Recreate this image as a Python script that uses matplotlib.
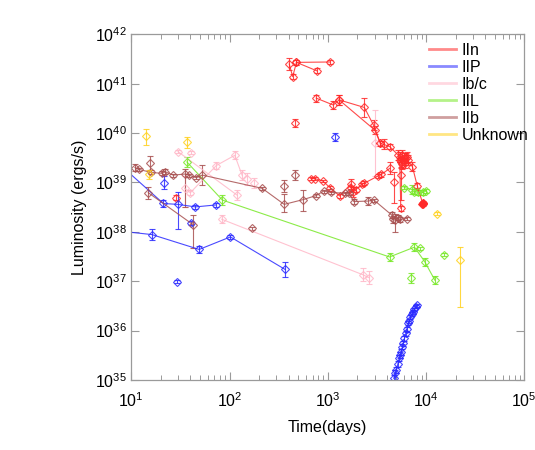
import matplotlib
matplotlib.use('Agg')
import matplotlib.pyplot as plt
import numpy as np
from matplotlib.lines import Line2D
from matplotlib.ticker import LogLocator, NullLocator

plt.rcParams['font.family'] = ['Liberation Sans', 'DejaVu Sans']
plt.rcParams['mathtext.fontset'] = 'custom'
plt.rcParams['mathtext.rm'] = 'Liberation Sans'
plt.rcParams['mathtext.it'] = 'Liberation Sans:italic'
plt.rcParams['mathtext.bf'] = 'Liberation Sans:bold'

# ---------------- data (time in days, luminosity in erg/s, errors in dex) ----------------
types = ['IIn', 'IIP', 'Ib/c', 'IIL', 'IIb', 'Unknown']
colors = {'IIn': '#ff2a2a', 'IIP': '#2a2aff', 'Ib/c': '#ffb8c8', 'IIL': '#78e828',
          'IIb': '#a85050', 'Unknown': '#ffd21e'}

# IIn
iin_a_t = [405, 439, 480, 1057]
iin_a_L = [2.5e41, 1.39e41, 2.7e41, 2.75e41]
iin_a_e = [0.13, 0.05, 0.05, 0.04]
iin_b_t = [480, 780]
iin_b_L = [2.7e41, 1.81e41]
iin_b_e = [0.05, 0.05]
iin_c_t = [762, 1137, 1303, 2355, 2920, 3430, 3710, 4280, 5190, 6240, 7260, 8130, 9230]
iin_c_L = [5.1e40, 3.7e40, 4.7e40, 3.3e40, 1.45e40, 6.2e39, 5.9e39, 5.3e39, 3.6e39, 3.1e39, 2.1e39, 8.6e38, 3.8e38]
iin_c_e = [0.07, 0.08, 0.1, 0.2, 0.1, 0.05, 0.1, 0.05, 0.1, 0.1, 0.1, 0.05, 0.05]
iin_d_t = [1303, 3010, 3430]
iin_d_L = [4.7e40, 1.15e40, 6.2e39]
iin_d_e = [0.1, 0.08, 0.05]
iin_e_t = [670, 738, 887, 1050, 1325, 1710, 1740, 1810, 1930, 2210, 2340, 3240, 3510, 4290]
iin_e_L = [1.2e39, 1.2e39, 1.07e39, 7.9e38, 5.3e38, 9.3e38, 7.6e38, 6.5e38, 7.2e38, 9.1e38, 9.6e38, 1.35e39, 1.45e39, 1.94e39]
iin_e_e = [0.03, 0.03, 0.03, 0.03, 0.04, 0.1, 0.05, 0.1, 0.05, 0.04, 0.04, 0.05, 0.05, 0.12]
iin_cl_t = [5400, 5530, 5750, 6000, 6140, 6340, 6540, 5750, 6000]
iin_cl_L = [3.3e39, 2.6e39, 3.6e39, 3.1e39, 2.44e39, 3.3e39, 2.85e39, 2.4e39, 2.9e39]
iin_cl_e = [0.1, 0.1, 0.1, 0.1, 0.1, 0.1, 0.1, 0.1, 0.1]
iin_h_t = [5400, 5530]
iin_h_L = [2.85e39, 3.0e38]
iin_h_e = [0.05, 0.05]
iin_long_t = [4720, 5530]
iin_long_L = [1.03e39, 1.41e39]
iin_long_lo = [0.43, 0.5]
iin_long_hi = [0.2, 0.15]
iin_fill_t = [9150, 9230, 9300]
iin_fill_L = [3.6e38, 3.9e38, 3.7e38]
iin_iso_t = [468, 28.3]
iin_iso_L = [1.57e40, 4.9e38]
iin_iso_e = [0.08, 0.05]

# IIP
iip_a_t = [7.0, 21.2, 29.6, 45.0, 72.1]
iip_a_L = [2.7e39, 3.75e38, 3.6e38, 3.2e38, 3.5e38]
iip_a_lo = [0.0, 0.08, 0.49, 0.04, 0.04]
iip_a_hi = [0.0, 0.08, 0.25, 0.04, 0.04]
iip_b_t = [9.0, 16.2, 49.1, 102, 368]
iip_b_L = [1.0e38, 8.8e37, 4.4e37, 7.9e37, 1.73e37]
iip_b_e = [0.0, 0.11, 0.07, 0.04, 0.16]
iip_c_t = [4694, 4847, 5000, 5159, 5321, 5490, 5619, 5750, 5843, 6028,
           6219, 6365, 6572, 6727, 6940, 7160, 7386, 7620, 7862, 8110]
iip_c_L = [1.08e35, 1.36e35, 1.59e35, 2.10e35, 2.73e35, 3.19e35, 3.73e35, 4.71e35, 5.51e35, 6.95e35,
           8.78e35, 1.06e36, 1.40e36, 1.58e36, 1.91e36, 2.16e36, 2.41e36, 2.73e36, 3.05e36, 3.24e36]
iip_c_lo = [0.3, 0.3, 0.06, 0.06, 0.06, 0.06, 0.06, 0.05, 0.05, 0.05,
            0.05, 0.05, 0.04, 0.04, 0.04, 0.04, 0.04, 0.03, 0.03, 0.03]
iip_c_hi = [0.06, 0.06, 0.06, 0.06, 0.06, 0.06, 0.06, 0.05, 0.05, 0.05,
            0.05, 0.05, 0.04, 0.04, 0.04, 0.04, 0.04, 0.03, 0.03, 0.03]
iip_iso_t = [21.6, 40.2, 29.0, 1190]
iip_iso_L = [9.8e38, 1.48e38, 9.8e36, 8.5e39]
iip_iso_e = [0.13, 0.04, 0.03, 0.08]

# Ib/c
ibc_a_t = [29.9, 120]
ibc_a_L = [4.2e39, 5.5e38]
ibc_a_e = [0.03, 0.1]
ibc_b_t = [34.8, 39.9, 73.3, 113, 134]
ibc_b_L = [7.6e38, 6.2e38, 2.2e39, 3.55e39, 1.41e39]
ibc_b_lo = [0.37, 0.05, 0.08, 0.08, 0.1]
ibc_b_hi = [0.24, 0.05, 0.08, 0.08, 0.1]
ibc_c_t = [83.2, 2260, 2630]
ibc_c_L = [1.8e38, 1.36e37, 1.18e37]
ibc_c_e = [0.08, 0.13, 0.13]
ibc_iso_t = [40.5, 152, 177, 3010]
ibc_iso_L = [4.0e39, 1.17e39, 9.9e38, 6.2e39]
ibc_iso_e = [0.03, 0.12, 0.1, 0.67]

# IIL
iil_a_t = [36.8, 84.5, 4250, 7620, 9680, 12300]
iil_a_L = [2.6e39, 4.4e38, 3.1e37, 4.9e37, 2.5e37, 1.05e37]
iil_a_e = [0.1, 0.1, 0.09, 0.08, 0.08, 0.08]
iil_b_t = [6000, 7210, 7500, 8260, 9310, 10070]
iil_b_L = [7.9e38, 7.2e38, 6.5e38, 6.3e38, 6.3e38, 6.8e38]
iil_b_e = [0.03, 0.1, 0.05, 0.05, 0.05, 0.04]
iil_iso_t = [8730, 7030, 15300]
iil_iso_L = [4.6e37, 1.17e37, 3.4e37]
iil_iso_e = [0.04, 0.1, 0.03]

# IIb
iib_a_t = [10.9, 12.0, 15.8, 20.4, 22.1, 26.7, 35.1, 38.6, 46.0, 52.7, 215, 360, 562, 756,
           908, 1090, 1490, 1660, 1840, 2570, 2950, 4460, 4640, 4800, 5190, 5400, 6340]
iib_a_L = [2.0e39, 1.84e39, 1.6e39, 1.53e39, 1.65e39, 1.41e39, 1.48e39, 1.41e39, 1.25e39, 1.41e39,
           7.6e38, 3.6e38, 4.5e38, 5.4e38, 6.7e38, 6.3e38, 6.0e38, 6.0e38, 4.1e38, 4.2e38, 4.4e38,
           2.2e38, 1.78e38, 1.73e38, 1.95e38, 1.78e38, 1.86e38]
iib_a_lo = [0.07, 0.03, 0.04, 0.04, 0.05, 0.03, 0.66, 0.03, 0.03, 0.2, 0.03, 0.15, 0.24, 0.03,
            0.03, 0.03, 0.03, 0.03, 0.05, 0.08, 0.03, 0.06, 0.08, 0.24, 0.05, 0.05, 0.03]
iib_a_hi = [0.07, 0.03, 0.04, 0.04, 0.05, 0.03, 0.11, 0.03, 0.03, 0.2, 0.03, 0.22, 0.19, 0.03,
            0.03, 0.03, 0.03, 0.03, 0.05, 0.08, 0.03, 0.06, 0.08, 0.13, 0.05, 0.05, 0.03]
iib_b_t = [14.9, 42.9]
iib_b_L = [6.2e38, 1.38e38]
iib_b_lo = [0.12, 0.47]
iib_b_hi = [0.12, 0.2]
iib_iso_t = [15.5, 360, 468, 168]
iib_iso_L = [2.45e39, 8.5e38, 1.41e39, 1.17e38]
iib_iso_e = [0.14, 0.13, 0.1, 0.03]

# Unknown
unk_t = [14.0, 36.8, 15.2, 13000, 22400]
unk_L = [8.8e39, 6.6e39, 1.5e39, 2.3e38, 2.7e37]
unk_lo = [0.18, 0.12, 0.1, 0.03, 0.95]
unk_hi = [0.13, 0.1, 0.07, 0.03, 0.27]

# ---------------- figure ----------------
fig = plt.figure(figsize=(5.35, 4.5), dpi=100)
ax = fig.add_axes([131.3 / 535, 70 / 450, 393 / 535, 345.7 / 450])


def draw(t, L, lo, hi=None, kind='IIn', connect=True, filled=False):
    c = colors[kind]
    t = np.asarray(t, float)
    L = np.asarray(L, float)
    lo = np.asarray(lo, float)
    hi = lo if hi is None else np.asarray(hi, float)
    yerr = [L - L * 10 ** (-lo), L * 10 ** hi - L]
    ax.errorbar(t, L, yerr=yerr, fmt='', linestyle='-' if connect else 'none',
                marker='D', ms=3.6, mfc=c if filled else 'none', mec=c, mew=0.8,
                color=c, ecolor=c, elinewidth=0.8, capsize=2.0, capthick=0.8, lw=0.8,
                alpha=0.85)


# IIn
draw(iin_a_t, iin_a_L, iin_a_e, kind='IIn')
draw(iin_b_t, iin_b_L, iin_b_e, kind='IIn')
draw(iin_c_t, iin_c_L, iin_c_e, kind='IIn')
draw(iin_d_t, iin_d_L, iin_d_e, kind='IIn')
draw(iin_e_t, iin_e_L, iin_e_e, kind='IIn')
draw(iin_cl_t, iin_cl_L, iin_cl_e, kind='IIn', connect=False)
draw(iin_h_t, iin_h_L, iin_h_e, kind='IIn')
draw(iin_long_t, iin_long_L, iin_long_lo, iin_long_hi, kind='IIn', connect=False)
draw(iin_fill_t, iin_fill_L, [0.02] * len(iin_fill_t), kind='IIn', connect=False, filled=True)
draw(iin_iso_t, iin_iso_L, iin_iso_e, kind='IIn', connect=False)
# IIP
draw(iip_a_t, iip_a_L, iip_a_lo, iip_a_hi, kind='IIP')
draw(iip_b_t, iip_b_L, iip_b_e, kind='IIP')
draw(iip_c_t, iip_c_L, iip_c_lo, iip_c_hi, kind='IIP')
draw(iip_iso_t, iip_iso_L, iip_iso_e, kind='IIP', connect=False)
# Ib/c
draw(ibc_a_t, ibc_a_L, ibc_a_e, kind='Ib/c')
draw(ibc_b_t, ibc_b_L, ibc_b_lo, ibc_b_hi, kind='Ib/c')
draw(ibc_c_t, ibc_c_L, ibc_c_e, kind='Ib/c')
draw(ibc_iso_t, ibc_iso_L, ibc_iso_e, kind='Ib/c', connect=False)
# IIL
draw(iil_a_t, iil_a_L, iil_a_e, kind='IIL')
draw(iil_b_t, iil_b_L, iil_b_e, kind='IIL')
draw(iil_iso_t, iil_iso_L, iil_iso_e, kind='IIL', connect=False)
# IIb
draw(iib_a_t, iib_a_L, iib_a_lo, iib_a_hi, kind='IIb')
draw(iib_b_t, iib_b_L, iib_b_lo, iib_b_hi, kind='IIb')
draw(iib_iso_t, iib_iso_L, iib_iso_e, kind='IIb', connect=False)
# Unknown
draw(unk_t, unk_L, unk_lo, unk_hi, kind='Unknown', connect=False)

ax.set_xscale('log')
ax.set_yscale('log')
ax.set_xlim(10, 1e5)
ax.set_ylim(1e35, 1e42)

ax.xaxis.set_major_locator(LogLocator(base=10, numticks=10))
ax.xaxis.set_minor_locator(LogLocator(base=10, subs=np.arange(2, 10), numticks=20))
ax.yaxis.set_major_locator(LogLocator(base=10, numticks=20))
ax.yaxis.set_minor_locator(NullLocator())

for s in ax.spines.values():
    s.set_color('#9a9a9a')
    s.set_linewidth(0.9)
ax.tick_params(which='both', direction='in', top=True, right=True, colors='#9a9a9a',
               labelcolor='black', labelsize=11.5)
ax.tick_params(which='major', length=6, width=0.8)
ax.tick_params(which='minor', length=3.5, width=0.7)
ax.tick_params(axis='x', which='major', pad=8)
ax.tick_params(axis='y', which='major', pad=3)

ax.set_xlabel('Time(days)', fontsize=11.5, labelpad=7)
ax.set_ylabel('Luminosity (ergs/s)', fontsize=11.5, labelpad=6)

handles = [Line2D([0], [0], color=colors[k], lw=2.0, alpha=0.55) for k in types]
ax.legend(handles, types, loc='upper left', bbox_to_anchor=(0.757, 0.975), frameon=False,
          fontsize=11.5, handlelength=1.7, handletextpad=0.35, labelspacing=0.12,
          borderpad=0, borderaxespad=0)

fig.savefig('out.png', dpi=100)
